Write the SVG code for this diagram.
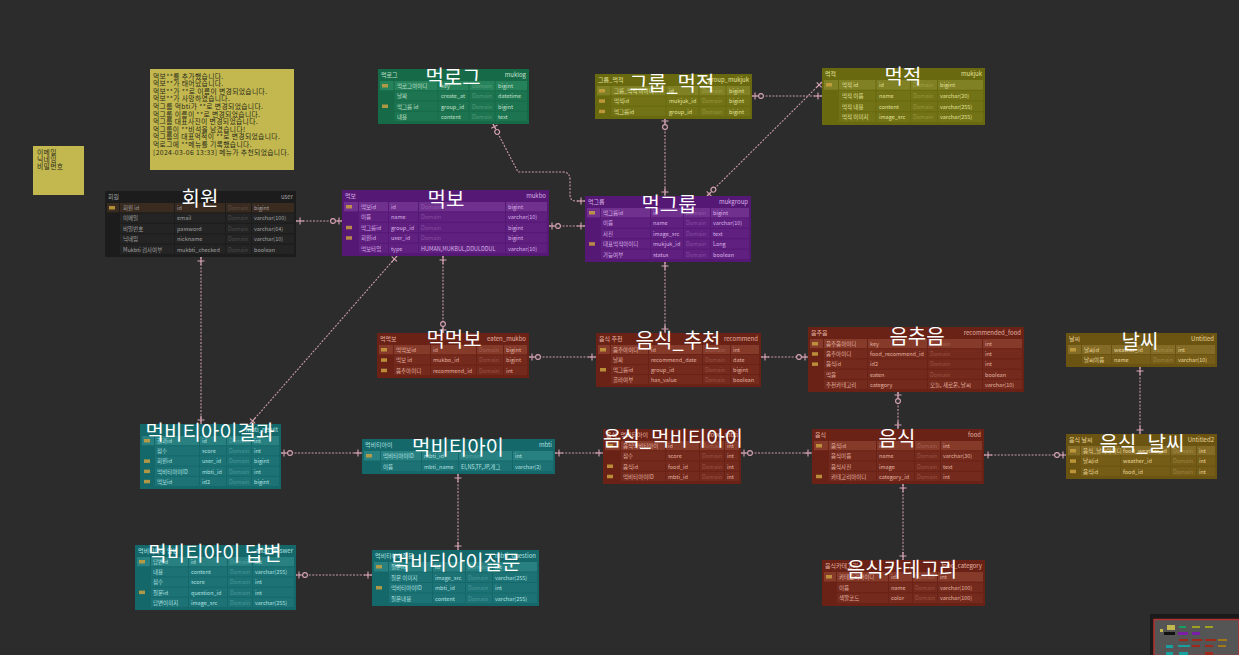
<svg xmlns="http://www.w3.org/2000/svg" width="1239" height="655" viewBox="0 0 1239 655">
<defs>
<style>
text{font-family:"Noto Sans CJK KR","Noto Sans",sans-serif}
.s{font-size:5.5px}
.h{font-size:6px}
.r{text-anchor:end}
.dm{opacity:.3}
.sep{stroke-width:1;fill:none}
.k{fill:#c9a040;opacity:.85}
g text.big{font-size:20px;fill:#ffffff;text-anchor:middle}
.note{fill:#c3b84f}
.nt{font-size:6.8px;fill:#2a2a18;letter-spacing:.35px}
.conn path{fill:none;stroke:#c99aa9;stroke-width:1.1;stroke-dasharray:2 1.4}
.th-user .tb{fill:#1c1c1c}.th-user .c{fill:#242424}.th-user .pk{fill:#3a2b20}.th-user text{fill:#a0a0a0}.th-user .sep{stroke:#1c1c1c}
.th-green .tb{fill:#176a48}.th-green .c{fill:#1d7450}.th-green .pk{fill:#26825b}.th-green text{fill:#c0e0cc}.th-green .sep{stroke:#176a48}
.th-olive .tb{fill:#69690f}.th-olive .c{fill:#727216}.th-olive .pk{fill:#808024}.th-olive text{fill:#e2e29c}.th-olive .sep{stroke:#69690f}
.th-purple .tb{fill:#551874}.th-purple .c{fill:#60207f}.th-purple .pk{fill:#70308e}.th-purple text{fill:#d8b0e8}.th-purple .sep{stroke:#551874}
.th-red .tb{fill:#6a2216}.th-red .c{fill:#742a1c}.th-red .pk{fill:#853a2a}.th-red text{fill:#e2b2a2}.th-red .sep{stroke:#6a2216}
.th-teal .tb{fill:#15686a}.th-teal .c{fill:#1c7274}.th-teal .pk{fill:#288080}.th-teal text{fill:#b0e0e0}.th-teal .sep{stroke:#15686a}
.th-brown .tb{fill:#6b5412}.th-brown .c{fill:#755d18}.th-brown .pk{fill:#846c26}.th-brown text{fill:#ead69c}.th-brown .sep{stroke:#6b5412}
</style>
<marker id="mt" markerUnits="userSpaceOnUse" markerWidth="12" markerHeight="12" viewBox="-12 -6 12 12" refX="0" refY="0" orient="auto-start-reverse"><path d="M-4,-3.5V3.5M-8,0H0" stroke="#d9a5b5" stroke-width="1.1" fill="none"/></marker>
<marker id="mo" markerUnits="userSpaceOnUse" markerWidth="16" markerHeight="12" viewBox="-16 -6 16 12" refX="0" refY="0" orient="auto-start-reverse"><path d="M-3,-3.5V3.5M-6,0H0" stroke="#d9a5b5" stroke-width="1.1" fill="none"/><circle cx="-9" cy="0" r="2.4" fill="#2c2c2c" stroke="#d9a5b5" stroke-width="1.1"/></marker>
</defs>
<rect width="1239" height="655" fill="#2c2c2c"/>

<g id="notes">
<rect class="note" x="150" y="69" width="144" height="101"/>
<text class="nt" x="153" y="78.5">먹보**를 추가했습니다.</text>
<text class="nt" x="153" y="86.1">먹보**가 태어났습니다.</text>
<text class="nt" x="153" y="93.7">먹보**가 **로 이름이 변경되었습니다.</text>
<text class="nt" x="153" y="101.3">먹보**가 사망하였습니다.</text>
<text class="nt" x="153" y="108.9">먹그룹 먹bti가 **로 변경되었습니다.</text>
<text class="nt" x="153" y="116.5">먹그룹 이름이 **로 변경되었습니다.</text>
<text class="nt" x="153" y="124.1">먹그룹 대표사진이 변경되었습니다.</text>
<text class="nt" x="153" y="131.7">먹그룹이 **비석을 남겼습니다!</text>
<text class="nt" x="153" y="139.3">먹그룹의 대표먹적이 **로 변경되었습니다.</text>
<text class="nt" x="153" y="146.9">먹로그에 **메뉴를 기록했습니다.</text>
<text class="nt" x="153" y="154.5">[2024-03-06 13:33] 메뉴가 추천되었습니다.</text>
<rect class="note" x="33" y="146" width="51" height="49"/>
<text class="nt" x="37" y="155">이메일</text>
<text class="nt" x="37" y="162">닉네임</text>
<text class="nt" x="37" y="169">비밀번호</text>
</g>

<g id="connectors" class="conn">
<path d="M296,221H342" marker-start="url(#mt)" marker-end="url(#mo)"/>
<path d="M201,257V424" marker-start="url(#mt)" marker-end="url(#mt)"/>
<path d="M397,256L250,424" marker-start="url(#mt)" marker-end="url(#mt)"/>
<path d="M443,256V333" marker-start="url(#mt)" marker-end="url(#mo)"/>
<path d="M549,226H585" marker-start="url(#mo)" marker-end="url(#mt)"/>
<path d="M493,124L518,172H563Q570,172 570,180V195Q570,201 576,201H585" marker-start="url(#mo)" marker-end="url(#mt)"/>
<path d="M665,118V196" marker-start="url(#mo)" marker-end="url(#mt)"/>
<path d="M752,96H822" marker-start="url(#mo)" marker-end="url(#mt)"/>
<path d="M822,82L707,196" marker-start="url(#mt)" marker-end="url(#mo)"/>
<path d="M665,262V333" marker-start="url(#mt)" marker-end="url(#mt)"/>
<path d="M529,357H596" marker-start="url(#mo)" marker-end="url(#mt)"/>
<path d="M761,357H808" marker-start="url(#mt)" marker-end="url(#mo)"/>
<path d="M898,392V429" marker-start="url(#mo)" marker-end="url(#mt)"/>
<path d="M1140,367V434" marker-start="url(#mt)" marker-end="url(#mt)"/>
<path d="M984,455H1066" marker-start="url(#mt)" marker-end="url(#mo)"/>
<path d="M741,453H812" marker-start="url(#mo)" marker-end="url(#mt)"/>
<path d="M555,453H603" marker-start="url(#mt)" marker-end="url(#mt)"/>
<path d="M281,453H362" marker-start="url(#mo)" marker-end="url(#mt)"/>
<path d="M458,474V550" marker-start="url(#mt)" marker-end="url(#mt)"/>
<path d="M372,575H296" marker-start="url(#mt)" marker-end="url(#mo)"/>
<path d="M903,484V560" marker-start="url(#mt)" marker-end="url(#mt)"/>
</g>

<g id="t-user" class="th-user">
<rect class="tb" x="105" y="191" width="191" height="66"/>
<text class="h" x="108" y="199">회원</text><text class="h r" x="293" y="199">user</text>
<rect class="pk" x="107" y="203" width="187" height="9.4"/>
<rect class="c" x="120" y="213.4" width="174" height="9.4"/><rect class="c" x="120" y="223.8" width="174" height="9.4"/><rect class="c" x="120" y="234.2" width="174" height="9.4"/><rect class="c" x="120" y="244.6" width="174" height="9.4"/>
<path class="sep" d="M119.5,203V254M174.5,203V254M225.5,203V254M251.5,203V254"/>
<rect class="k" x="109" y="206" width="6" height="3.5"/>
<text class="s" x="123" y="210">회원 id</text><text class="s" x="177" y="210">id</text><text class="s dm" x="228" y="210">Domain</text><text class="s" x="254" y="210">bigint</text>
<text class="s" x="123" y="220.4">이메일</text><text class="s" x="177" y="220.4">email</text><text class="s dm" x="228" y="220.4">Domain</text><text class="s" x="254" y="220.4">varchar(100)</text>
<text class="s" x="123" y="230.8">비밀번호</text><text class="s" x="177" y="230.8">password</text><text class="s dm" x="228" y="230.8">Domain</text><text class="s" x="254" y="230.8">varchar(64)</text>
<text class="s" x="123" y="241.2">닉네임</text><text class="s" x="177" y="241.2">nickname</text><text class="s dm" x="228" y="241.2">Domain</text><text class="s" x="254" y="241.2">varchar(10)</text>
<text class="s" x="123" y="251.6">Mukbti 검사여부</text><text class="s" x="177" y="251.6">mukbti_checked</text><text class="s dm" x="228" y="251.6">Domain</text><text class="s" x="254" y="251.6">boolean</text>
<text class="big" x="200" y="206">회원</text>
</g>

<g id="t-muklog" class="th-green">
<rect class="tb" x="378" y="69" width="151" height="55"/>
<text class="h" x="381" y="76.5">먹로그</text><text class="h r" x="526" y="76.5">muklog</text>
<rect class="pk" x="380" y="81" width="147" height="9.25"/>
<rect class="c" x="394" y="91.25" width="133" height="9.25"/><rect class="c" x="394" y="101.5" width="133" height="9.25"/><rect class="c" x="394" y="111.75" width="133" height="9.25"/>
<path class="sep" d="M394,81V121M438,81V121M469,81V121M495,81V121"/>
<rect class="k" x="382" y="84" width="6" height="3.5"/><rect class="k" x="382" y="104.5" width="6" height="3.5"/>
<text class="s" x="397" y="88">먹로그아이디</text><text class="s" x="441" y="88">key</text><text class="s dm" x="472" y="88">Domain</text><text class="s" x="498" y="88">bigint</text>
<text class="s" x="397" y="98.25">날짜</text><text class="s" x="441" y="98.25">create_at</text><text class="s dm" x="472" y="98.25">Domain</text><text class="s" x="498" y="98.25">datetime</text>
<text class="s" x="397" y="108.5">먹그룹 id</text><text class="s" x="441" y="108.5">group_id</text><text class="s dm" x="472" y="108.5">Domain</text><text class="s" x="498" y="108.5">bigint</text>
<text class="s" x="397" y="118.75">내용</text><text class="s" x="441" y="118.75">content</text><text class="s dm" x="472" y="118.75">Domain</text><text class="s" x="498" y="118.75">text</text>
<text class="big" x="453" y="85">먹로그</text>
</g>

<g id="t-group-mukjuk" class="th-olive">
<rect class="tb" x="595" y="74" width="157" height="45"/>
<text class="h" x="598" y="81.5">그룹_먹적</text><text class="h r" x="749" y="81.5">group_mukjuk</text>
<rect class="pk" x="597" y="86" width="153" height="9.3"/>
<rect class="c" x="611" y="96.33" width="139" height="9.3"/><rect class="c" x="611" y="106.67" width="139" height="9.3"/>
<path class="sep" d="M611,86V116M666,86V116M699,86V116M726,86V116"/>
<rect class="k" x="599" y="89" width="6" height="3.5"/><rect class="k" x="599" y="99.3" width="6" height="3.5"/><rect class="k" x="599" y="109.7" width="6" height="3.5"/>
<text class="s" x="614" y="93">그룹_먹적 아이디</text><text class="s" x="669" y="93">id</text><text class="s dm" x="702" y="93">Domain</text><text class="s" x="729" y="93">bigint</text>
<text class="s" x="614" y="103.3">먹적id</text><text class="s" x="669" y="103.3">mukjuk_id</text><text class="s dm" x="702" y="103.3">Domain</text><text class="s" x="729" y="103.3">bigint</text>
<text class="s" x="614" y="113.7">먹그룹id</text><text class="s" x="669" y="113.7">group_id</text><text class="s dm" x="702" y="113.7">Domain</text><text class="s" x="729" y="113.7">bigint</text>
<text class="big" x="672" y="91">그룹_먹적</text>
</g>

<g id="t-mukjuk" class="th-olive">
<rect class="tb" x="822" y="68" width="163" height="57"/>
<text class="h" x="825" y="75.5">먹적</text><text class="h r" x="982" y="75.5">mukjuk</text>
<rect class="pk" x="824" y="80" width="159" height="9.75"/>
<rect class="c" x="838.5" y="90.75" width="144.5" height="9.75"/><rect class="c" x="838.5" y="101.5" width="144.5" height="9.75"/><rect class="c" x="838.5" y="112.25" width="144.5" height="9.75"/>
<path class="sep" d="M838.5,80V122M876,80V122M910.5,80V122M937.5,80V122"/>
<rect class="k" x="826" y="83" width="6" height="3.5"/>
<text class="s" x="842" y="87">먹적 id</text><text class="s" x="879" y="87">id</text><text class="s dm" x="913" y="87">Domain</text><text class="s" x="940" y="87">bigint</text>
<text class="s" x="842" y="97.75">먹적 이름</text><text class="s" x="879" y="97.75">name</text><text class="s dm" x="913" y="97.75">Domain</text><text class="s" x="940" y="97.75">varchar(20)</text>
<text class="s" x="842" y="108.5">먹적 내용</text><text class="s" x="879" y="108.5">content</text><text class="s dm" x="913" y="108.5">Domain</text><text class="s" x="940" y="108.5">varchar(255)</text>
<text class="s" x="842" y="119.25">먹적 이미지</text><text class="s" x="879" y="119.25">image_src</text><text class="s dm" x="913" y="119.25">Domain</text><text class="s" x="940" y="119.25">varchar(255)</text>
<text class="big" x="903" y="84">먹적</text>
</g>

<g id="t-mukbo" class="th-purple">
<rect class="tb" x="342" y="190" width="207" height="66"/>
<text class="h" x="345" y="198">먹보</text><text class="h r" x="546" y="198">mukbo</text>
<rect class="pk" x="344" y="202" width="203" height="9.4"/>
<rect class="c" x="358.5" y="212.4" width="188.5" height="9.4"/><rect class="c" x="358.5" y="222.8" width="188.5" height="9.4"/><rect class="c" x="358.5" y="233.2" width="188.5" height="9.4"/><rect class="c" x="358.5" y="243.6" width="188.5" height="9.4"/>
<path class="sep" d="M358.5,202V253M388.5,202V253M418.5,202V253M505.5,202V253"/>
<rect class="k" x="346" y="205" width="6" height="3.5"/><rect class="k" x="346" y="225.8" width="6" height="3.5"/><rect class="k" x="346" y="236.2" width="6" height="3.5"/>
<text class="s" x="361" y="209">먹보id</text><text class="s" x="391" y="209">id</text><text class="s dm" x="421" y="209">Domain</text><text class="s" x="508" y="209">bigint</text>
<text class="s" x="361" y="219.4">이름</text><text class="s" x="391" y="219.4">name</text><text class="s dm" x="421" y="219.4">Domain</text><text class="s" x="508" y="219.4">varchar(10)</text>
<text class="s" x="361" y="229.8">먹그룹id</text><text class="s" x="391" y="229.8">group_id</text><text class="s dm" x="421" y="229.8">Domain</text><text class="s" x="508" y="229.8">bigint</text>
<text class="s" x="361" y="240.2">회원id</text><text class="s" x="391" y="240.2">user_id</text><text class="s dm" x="421" y="240.2">Domain</text><text class="s" x="508" y="240.2">bigint</text>
<text class="s" x="361" y="250.6">먹보타입</text><text class="s" x="391" y="250.6">type</text><text class="s" x="421" y="250.6">HUMAN,MUKBUL,DDULDDUL</text><text class="s" x="508" y="250.6">varchar(10)</text>
<text class="big" x="446" y="207">먹보</text>
</g>

<g id="t-mukgroup" class="th-purple">
<rect class="tb" x="585" y="196" width="166" height="66"/>
<text class="h" x="588" y="204">먹그룹</text><text class="h r" x="748" y="204">mukgroup</text>
<rect class="pk" x="587" y="208" width="162" height="9.4"/>
<rect class="c" x="600.5" y="218.4" width="148.5" height="9.4"/><rect class="c" x="600.5" y="228.8" width="148.5" height="9.4"/><rect class="c" x="600.5" y="239.2" width="148.5" height="9.4"/><rect class="c" x="600.5" y="249.6" width="148.5" height="9.4"/>
<path class="sep" d="M600.5,208V259M650.5,208V259M683.5,208V259M710.5,208V259"/>
<rect class="k" x="589" y="211" width="6" height="3.5"/><rect class="k" x="589" y="242.2" width="6" height="3.5"/>
<text class="s" x="603" y="215">먹그룹id</text><text class="s" x="653" y="215">id</text><text class="s dm" x="686" y="215">Domain</text><text class="s" x="713" y="215">bigint</text>
<text class="s" x="603" y="225.4">이름</text><text class="s" x="653" y="225.4">name</text><text class="s dm" x="686" y="225.4">Domain</text><text class="s" x="713" y="225.4">varchar(10)</text>
<text class="s" x="603" y="235.8">사진</text><text class="s" x="653" y="235.8">image_src</text><text class="s dm" x="686" y="235.8">Domain</text><text class="s" x="713" y="235.8">text</text>
<text class="s" x="603" y="246.2">대표먹적아이디</text><text class="s" x="653" y="246.2">mukjuk_id</text><text class="s dm" x="686" y="246.2">Domain</text><text class="s" x="713" y="246.2">Long</text>
<text class="s" x="603" y="256.6">가능여부</text><text class="s" x="653" y="256.6">status</text><text class="s dm" x="686" y="256.6">Domain</text><text class="s" x="713" y="256.6">boolean</text>
<text class="big" x="669" y="212">먹그룹</text>
</g>

<g id="t-eaten-mukbo" class="th-red">
<rect class="tb" x="377" y="333" width="152" height="45"/>
<text class="h" x="380" y="340.5">먹먹보</text><text class="h r" x="526" y="340.5">eaten_mukbo</text>
<rect class="pk" x="379" y="345" width="148" height="9.3"/>
<rect class="c" x="393.5" y="355.33" width="133.5" height="9.3"/><rect class="c" x="393.5" y="365.67" width="133.5" height="9.3"/>
<path class="sep" d="M393.5,345V375M430.5,345V375M476.5,345V375M503.5,345V375"/>
<rect class="k" x="381" y="348" width="6" height="3.5"/><rect class="k" x="381" y="358.3" width="6" height="3.5"/><rect class="k" x="381" y="368.7" width="6" height="3.5"/>
<text class="s" x="396" y="352">먹먹보id</text><text class="s" x="433" y="352">id</text><text class="s dm" x="479" y="352">Domain</text><text class="s" x="506" y="352">bigint</text>
<text class="s" x="396" y="362.3">먹보 id</text><text class="s" x="433" y="362.3">mukbo_id</text><text class="s dm" x="479" y="362.3">Domain</text><text class="s" x="506" y="362.3">bigint</text>
<text class="s" x="396" y="372.7">음추아이디</text><text class="s" x="433" y="372.7">recommend_id</text><text class="s dm" x="479" y="372.7">Domain</text><text class="s" x="506" y="372.7">int</text>
<text class="big" x="454" y="347">먹먹보</text>
</g>

<g id="t-recommend" class="th-red">
<rect class="tb" x="596" y="333" width="165" height="54"/>
<text class="h" x="599" y="340.5">음식 추천</text><text class="h r" x="758" y="340.5">recommend</text>
<rect class="pk" x="598" y="345" width="161" height="9"/>
<rect class="c" x="610.5" y="355" width="148.5" height="9"/><rect class="c" x="610.5" y="365" width="148.5" height="9"/><rect class="c" x="610.5" y="375" width="148.5" height="9"/>
<path class="sep" d="M610.5,345V384M648.5,345V384M702.5,345V384M730.5,345V384"/>
<rect class="k" x="600" y="348" width="6" height="3.5"/><rect class="k" x="600" y="368" width="6" height="3.5"/>
<text class="s" x="613" y="352">음추아이디</text><text class="s" x="651" y="352">id</text><text class="s dm" x="705" y="352">Domain</text><text class="s" x="733" y="352">int</text>
<text class="s" x="613" y="362">날짜</text><text class="s" x="651" y="362">recommend_date</text><text class="s dm" x="705" y="362">Domain</text><text class="s" x="733" y="362">date</text>
<text class="s" x="613" y="372">먹그룹id</text><text class="s" x="651" y="372">group_id</text><text class="s dm" x="705" y="372">Domain</text><text class="s" x="733" y="372">bigint</text>
<text class="s" x="613" y="382">골라여부</text><text class="s" x="651" y="382">has_value</text><text class="s dm" x="705" y="382">Domain</text><text class="s" x="733" y="382">boolean</text>
<text class="big" x="678" y="348">음식_추천</text>
</g>

<g id="t-recommended-food" class="th-red">
<rect class="tb" x="808" y="327" width="216" height="65"/>
<text class="h" x="811" y="334.5">음추음</text><text class="h r" x="1021" y="334.5">recommended_food</text>
<rect class="pk" x="810" y="339" width="212" height="9.2"/>
<rect class="c" x="823.5" y="349.2" width="198.5" height="9.2"/><rect class="c" x="823.5" y="359.4" width="198.5" height="9.2"/><rect class="c" x="823.5" y="369.6" width="198.5" height="9.2"/><rect class="c" x="823.5" y="379.8" width="198.5" height="9.2"/>
<path class="sep" d="M823.5,339V389M867.5,339V389M927.5,339V389M982.5,339V389"/>
<rect class="k" x="812" y="342" width="6" height="3.5"/><rect class="k" x="812" y="352.2" width="6" height="3.5"/><rect class="k" x="812" y="362.4" width="6" height="3.5"/>
<text class="s" x="826" y="346">음추음아이디</text><text class="s" x="870" y="346">key</text><text class="s dm" x="930" y="346">Domain</text><text class="s" x="985" y="346">int</text>
<text class="s" x="826" y="356.2">음추아이디</text><text class="s" x="870" y="356.2">food_recommend_id</text><text class="s dm" x="930" y="356.2">Domain</text><text class="s" x="985" y="356.2">int</text>
<text class="s" x="826" y="366.4">음식id</text><text class="s" x="870" y="366.4">id2</text><text class="s dm" x="930" y="366.4">Domain</text><text class="s" x="985" y="366.4">int</text>
<text class="s" x="826" y="376.6">먹음</text><text class="s" x="870" y="376.6">eaten</text><text class="s dm" x="930" y="376.6">Domain</text><text class="s" x="985" y="376.6">boolean</text>
<text class="s" x="826" y="386.8">추천카테고리</text><text class="s" x="870" y="386.8">category</text><text class="s" x="930" y="386.8">오늘, 새로운, 날씨</text><text class="s" x="985" y="386.8">varchar(10)</text>
<text class="big" x="917" y="344">음추음</text>
</g>

<g id="t-weather" class="th-brown">
<rect class="tb" x="1066" y="333" width="151" height="34"/>
<text class="h" x="1069" y="340.5">날씨</text><text class="h r" x="1214" y="340.5">Untitled</text>
<rect class="pk" x="1068" y="345" width="147" height="9"/>
<rect class="c" x="1081.5" y="355" width="133.5" height="9"/>
<path class="sep" d="M1081.5,345V364M1111.5,345V364M1150.5,345V364M1175.5,345V364"/>
<rect class="k" x="1070" y="348" width="6" height="3.5"/>
<text class="s" x="1084" y="352">날씨id</text><text class="s" x="1114" y="352">weather_id</text><text class="s dm" x="1153" y="352">Domain</text><text class="s" x="1178" y="352">int</text>
<text class="s" x="1084" y="362">날씨이름</text><text class="s" x="1114" y="362">name</text><text class="s dm" x="1153" y="362">Domain</text><text class="s" x="1178" y="362">varchar(10)</text>
<text class="big" x="1140" y="349">날씨</text>
</g>

<g id="t-mbti-result" class="th-teal">
<rect class="tb" x="140" y="424" width="141" height="65"/>
<text class="h r" x="278" y="431.5">mbti_result</text>
<rect class="pk" x="142" y="436" width="137" height="9.2"/>
<rect class="c" x="154.5" y="446.2" width="124.5" height="9.2"/><rect class="c" x="154.5" y="456.4" width="124.5" height="9.2"/><rect class="c" x="154.5" y="466.6" width="124.5" height="9.2"/><rect class="c" x="154.5" y="476.8" width="124.5" height="9.2"/>
<path class="sep" d="M154.5,436V486M199.5,436V486M226.5,436V486M251.5,436V486"/>
<rect class="k" x="144" y="439" width="6" height="3.5"/><rect class="k" x="144" y="459.4" width="6" height="3.5"/><rect class="k" x="144" y="469.6" width="6" height="3.5"/><rect class="k" x="144" y="479.8" width="6" height="3.5"/>
<text class="s" x="157" y="443">결과id</text><text class="s" x="202" y="443">id</text><text class="s dm" x="229" y="443">Domain</text><text class="s" x="254" y="443">int</text>
<text class="s" x="157" y="453.2">점수</text><text class="s" x="202" y="453.2">score</text><text class="s dm" x="229" y="453.2">Domain</text><text class="s" x="254" y="453.2">int</text>
<text class="s" x="157" y="463.4">회원id</text><text class="s" x="202" y="463.4">user_id</text><text class="s dm" x="229" y="463.4">Domain</text><text class="s" x="254" y="463.4">bigint</text>
<text class="s" x="157" y="473.6">먹비티아이ID</text><text class="s" x="202" y="473.6">mbti_id</text><text class="s dm" x="229" y="473.6">Domain</text><text class="s" x="254" y="473.6">int</text>
<text class="s" x="157" y="483.8">먹보id</text><text class="s" x="202" y="483.8">id2</text><text class="s dm" x="229" y="483.8">Domain</text><text class="s" x="254" y="483.8">bigint</text>
<text class="big" x="210" y="440">먹비티아이결과</text>
</g>

<g id="t-mbti" class="th-teal">
<rect class="tb" x="362" y="439" width="193" height="35"/>
<text class="h" x="365" y="446.5">먹비티아이</text><text class="h r" x="552" y="446.5">mbti</text>
<rect class="pk" x="364" y="451" width="189" height="9.5"/>
<rect class="c" x="380.5" y="461.5" width="172.5" height="9.5"/>
<path class="sep" d="M380.5,451V471M421.5,451V471M458.5,451V471M512.5,451V471"/>
<rect class="k" x="366" y="454" width="6" height="3.5"/>
<text class="s" x="383" y="458">먹비티아이ID</text><text class="s" x="424" y="458">mbti_id</text><text class="s dm" x="461" y="458">Domain</text><text class="s" x="515" y="458">int</text>
<text class="s" x="383" y="468.5">이름</text><text class="s" x="424" y="468.5">mbti_name</text><text class="s" x="461" y="468.5">EI,NS,TF,JP,개그</text><text class="s" x="515" y="468.5">varchar(2)</text>
<text class="big" x="458" y="455">먹비티아이</text>
</g>

<g id="t-food-mbti" class="th-red">
<rect class="tb" x="603" y="429" width="138" height="55"/>
<text class="h" x="606" y="436.5">음식_먹비티아이</text><text class="h r" x="738" y="436.5">food_mbti</text>
<rect class="pk" x="605" y="441" width="134" height="9.25"/>
<rect class="c" x="620.5" y="451.25" width="118.5" height="9.25"/><rect class="c" x="620.5" y="461.5" width="118.5" height="9.25"/><rect class="c" x="620.5" y="471.75" width="118.5" height="9.25"/>
<path class="sep" d="M620.5,441V481M665.5,441V481M699.5,441V481M724.5,441V481"/>
<rect class="k" x="607" y="444" width="6" height="3.5"/><rect class="k" x="607" y="464.5" width="6" height="3.5"/><rect class="k" x="607" y="474.75" width="6" height="3.5"/>
<text class="s" x="623" y="448">음식먹비티아이</text><text class="s" x="668" y="448">id</text><text class="s dm" x="702" y="448">Domain</text><text class="s" x="727" y="448">int</text>
<text class="s" x="623" y="458.25">점수</text><text class="s" x="668" y="458.25">score</text><text class="s dm" x="702" y="458.25">Domain</text><text class="s" x="727" y="458.25">int</text>
<text class="s" x="623" y="468.5">음식id</text><text class="s" x="668" y="468.5">food_id</text><text class="s dm" x="702" y="468.5">Domain</text><text class="s" x="727" y="468.5">int</text>
<text class="s" x="623" y="478.75">먹비티아이ID</text><text class="s" x="668" y="478.75">mbti_id</text><text class="s dm" x="702" y="478.75">Domain</text><text class="s" x="727" y="478.75">int</text>
<text class="big" x="673" y="446">음식_먹비티아이</text>
</g>

<g id="t-food" class="th-red">
<rect class="tb" x="812" y="429" width="172" height="55"/>
<text class="h" x="815" y="436.5">음식</text><text class="h r" x="981" y="436.5">food</text>
<rect class="pk" x="814" y="441" width="168" height="9.25"/>
<rect class="c" x="828.5" y="451.25" width="153.5" height="9.25"/><rect class="c" x="828.5" y="461.5" width="153.5" height="9.25"/><rect class="c" x="828.5" y="471.75" width="153.5" height="9.25"/>
<path class="sep" d="M828.5,441V481M876.5,441V481M914.5,441V481M940.5,441V481"/>
<rect class="k" x="816" y="444" width="6" height="3.5"/><rect class="k" x="816" y="474.75" width="6" height="3.5"/>
<text class="s" x="831" y="448">음식id</text><text class="s" x="879" y="448">id</text><text class="s dm" x="917" y="448">Domain</text><text class="s" x="943" y="448">int</text>
<text class="s" x="831" y="458.25">음식이름</text><text class="s" x="879" y="458.25">name</text><text class="s dm" x="917" y="458.25">Domain</text><text class="s" x="943" y="458.25">varchar(30)</text>
<text class="s" x="831" y="468.5">음식사진</text><text class="s" x="879" y="468.5">image</text><text class="s dm" x="917" y="468.5">Domain</text><text class="s" x="943" y="468.5">text</text>
<text class="s" x="831" y="478.75">카테고리아이디</text><text class="s" x="879" y="478.75">category_id</text><text class="s dm" x="917" y="478.75">Domain</text><text class="s" x="943" y="478.75">int</text>
<text class="big" x="897" y="446">음식</text>
</g>

<g id="t-food-weather" class="th-brown">
<rect class="tb" x="1066" y="434" width="151" height="45"/>
<text class="h" x="1069" y="441.5">음식 날씨</text><text class="h r" x="1214" y="441.5">Untitled2</text>
<rect class="pk" x="1068" y="446" width="147" height="9.3"/>
<rect class="c" x="1080.5" y="456.33" width="134.5" height="9.3"/><rect class="c" x="1080.5" y="466.67" width="134.5" height="9.3"/>
<path class="sep" d="M1080.5,446V476M1120.5,446V476M1170.5,446V476M1196.5,446V476"/>
<rect class="k" x="1070" y="449" width="6" height="3.5"/><rect class="k" x="1070" y="459.3" width="6" height="3.5"/><rect class="k" x="1070" y="469.7" width="6" height="3.5"/>
<text class="s" x="1083" y="453">음식_날씨아이디</text><text class="s" x="1123" y="453">food_weather_id</text><text class="s dm" x="1173" y="453">Domain</text><text class="s" x="1199" y="453">int</text>
<text class="s" x="1083" y="463.3">날씨id</text><text class="s" x="1123" y="463.3">weather_id</text><text class="s dm" x="1173" y="463.3">Domain</text><text class="s" x="1199" y="463.3">int</text>
<text class="s" x="1083" y="473.7">음식id</text><text class="s" x="1123" y="473.7">food_id</text><text class="s dm" x="1173" y="473.7">Domain</text><text class="s" x="1199" y="473.7">int</text>
<text class="big" x="1142" y="451">음식_날씨</text>
</g>

<g id="t-mbti-answer" class="th-teal">
<rect class="tb" x="135" y="545" width="161" height="65"/>
<text class="h" x="138" y="552.5">먹비티아이 답변</text><text class="h r" x="293" y="552.5">mbti_answer</text>
<rect class="pk" x="137" y="557" width="157" height="9.2"/>
<rect class="c" x="150.5" y="567.2" width="143.5" height="9.2"/><rect class="c" x="150.5" y="577.4" width="143.5" height="9.2"/><rect class="c" x="150.5" y="587.6" width="143.5" height="9.2"/><rect class="c" x="150.5" y="597.8" width="143.5" height="9.2"/>
<path class="sep" d="M150.5,557V607M188.5,557V607M227.5,557V607M252.5,557V607"/>
<rect class="k" x="139" y="560" width="6" height="3.5"/><rect class="k" x="139" y="590.6" width="6" height="3.5"/>
<text class="s" x="153" y="564">답변id</text><text class="s" x="191" y="564">id</text><text class="s dm" x="230" y="564">Domain</text><text class="s" x="255" y="564">int</text>
<text class="s" x="153" y="574.2">내용</text><text class="s" x="191" y="574.2">content</text><text class="s dm" x="230" y="574.2">Domain</text><text class="s" x="255" y="574.2">varchar(255)</text>
<text class="s" x="153" y="584.4">점수</text><text class="s" x="191" y="584.4">score</text><text class="s dm" x="230" y="584.4">Domain</text><text class="s" x="255" y="584.4">int</text>
<text class="s" x="153" y="594.6">질문id</text><text class="s" x="191" y="594.6">question_id</text><text class="s dm" x="230" y="594.6">Domain</text><text class="s" x="255" y="594.6">int</text>
<text class="s" x="153" y="604.8">답변이미지</text><text class="s" x="191" y="604.8">image_src</text><text class="s dm" x="230" y="604.8">Domain</text><text class="s" x="255" y="604.8">varchar(255)</text>
<text class="big" x="215" y="561">먹비티아이 답변</text>
</g>

<g id="t-mbti-question" class="th-teal">
<rect class="tb" x="372" y="550" width="167" height="56"/>
<text class="h" x="375" y="557.5">먹비티아이질문</text><text class="h r" x="536" y="557.5">mbti_question</text>
<rect class="pk" x="374" y="562" width="163" height="9.5"/>
<rect class="c" x="388.5" y="572.5" width="148.5" height="9.5"/><rect class="c" x="388.5" y="583" width="148.5" height="9.5"/><rect class="c" x="388.5" y="593.5" width="148.5" height="9.5"/>
<path class="sep" d="M388.5,562V603M432.5,562V603M465.5,562V603M492.5,562V603"/>
<rect class="k" x="376" y="565" width="6" height="3.5"/><rect class="k" x="376" y="586" width="6" height="3.5"/>
<text class="s" x="391" y="569">질문id</text><text class="s" x="435" y="569">id</text><text class="s dm" x="468" y="569">Domain</text><text class="s" x="495" y="569">int</text>
<text class="s" x="391" y="579.5">질문 이미지</text><text class="s" x="435" y="579.5">image_src</text><text class="s dm" x="468" y="579.5">Domain</text><text class="s" x="495" y="579.5">varchar(255)</text>
<text class="s" x="391" y="590">먹비티아이ID</text><text class="s" x="435" y="590">mbti_id</text><text class="s dm" x="468" y="590">Domain</text><text class="s" x="495" y="590">int</text>
<text class="s" x="391" y="600.5">질문내용</text><text class="s" x="435" y="600.5">content</text><text class="s dm" x="468" y="600.5">Domain</text><text class="s" x="495" y="600.5">varchar(255)</text>
<text class="big" x="456" y="570">먹비티아이질문</text>
</g>

<g id="t-food-category" class="th-red">
<rect class="tb" x="822" y="560" width="163" height="46"/>
<text class="h" x="825" y="567.5">음식카테고리</text><text class="h r" x="982" y="567.5">food_category</text>
<rect class="pk" x="824" y="572" width="159" height="9.6"/>
<rect class="c" x="836.5" y="582.67" width="146.5" height="9.6"/><rect class="c" x="836.5" y="593.33" width="146.5" height="9.6"/>
<path class="sep" d="M836.5,572V603M888.5,572V603M912.5,572V603M937.5,572V603"/>
<rect class="k" x="826" y="575" width="6" height="3.5"/>
<text class="s" x="839" y="579">카테고리아이디</text><text class="s" x="891" y="579">id</text><text class="s dm" x="915" y="579">Domain</text><text class="s" x="940" y="579">int</text>
<text class="s" x="839" y="589.7">이름</text><text class="s" x="891" y="589.7">name</text><text class="s dm" x="915" y="589.7">Domain</text><text class="s" x="940" y="589.7">varchar(100)</text>
<text class="s" x="839" y="600.3">색깔코드</text><text class="s" x="891" y="600.3">color</text><text class="s dm" x="915" y="600.3">Domain</text><text class="s" x="940" y="600.3">varchar(100)</text>
<text class="big" x="902" y="577">음식카테고리</text>
</g>

<g id="minimap">
<rect x="1150" y="614" width="89" height="41" fill="#1a1a1a"/>
<rect x="1154" y="619.5" width="85" height="36" fill="#555555" stroke="#b33030" stroke-width="1.5"/>
<rect x="1160" y="629" width="3" height="3" fill="#c3b84f"/>
<rect x="1167" y="625" width="8" height="5" fill="#c3b84f"/>
<rect x="1179" y="626" width="7" height="2" fill="#17a060"/>
<rect x="1192" y="626" width="8" height="2" fill="#a0a020"/>
<rect x="1205" y="626" width="8" height="2" fill="#a0a020"/>
<rect x="1164" y="632" width="11" height="3" fill="#111111"/>
<rect x="1178" y="632" width="10" height="3" fill="#7a20a8"/>
<rect x="1192" y="632" width="8" height="3" fill="#7a20a8"/>
<rect x="1179" y="639" width="9" height="2" fill="#a02818"/>
<rect x="1192" y="639" width="10" height="2" fill="#a02818"/>
<rect x="1205" y="639" width="11" height="2" fill="#a02818"/>
<rect x="1218" y="639" width="9" height="2" fill="#a07818"/>
<rect x="1166" y="645" width="7" height="3" fill="#18a0a0"/>
<rect x="1178" y="645" width="12" height="2" fill="#18a0a0"/>
<rect x="1192" y="645" width="8" height="2" fill="#a02818"/>
<rect x="1205" y="645" width="8" height="2" fill="#a02818"/>
<rect x="1218" y="645" width="8" height="2" fill="#a07818"/>
<rect x="1166" y="652" width="7" height="3" fill="#18a0a0"/>
<rect x="1179" y="652" width="9" height="3" fill="#18a0a0"/>
<rect x="1205" y="652" width="8" height="3" fill="#a02818"/>
</g>
</svg>
